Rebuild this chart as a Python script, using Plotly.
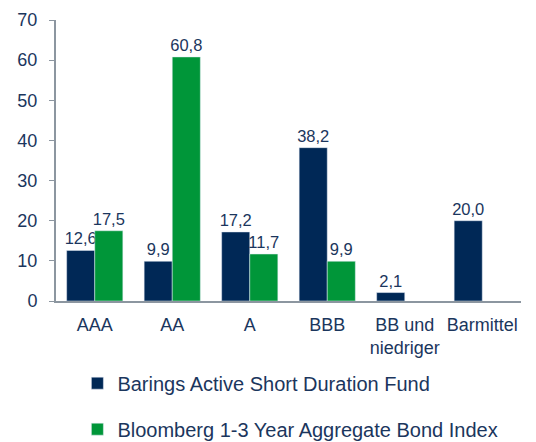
import plotly.graph_objects as go

categories = ["AAA", "AA", "A", "BBB", "BB und<br>niedriger", "Barmittel"]
fund_name = "Barings Active Short Duration Fund"
index_name = "Bloomberg 1-3 Year Aggregate Bond Index"
fund_values = [12.6, 9.9, 17.2, 38.2, 2.1, 20.0]
index_values = [17.5, 60.8, 11.7, 9.9, None, None]
y_ticks = [0, 10, 20, 30, 40, 50, 60, 70]

NAVY = "#002856"
GREEN = "#009639"
TEXT = "#1b365d"
AXIS = "#8c96a0"


def fmt(v):
    return "" if v is None else f"{v:.1f}".replace(".", ",")


fig = go.Figure()
fig.add_trace(go.Bar(
    x=categories, y=fund_values, name=fund_name, marker_color=NAVY,
    text=[fmt(v) for v in fund_values], textposition="outside",
    textfont=dict(size=16.5, color=TEXT), cliponaxis=False, constraintext="none",
    legendgroup="a",
))
fig.add_trace(go.Bar(
    x=categories, y=index_values, name=index_name, marker_color=GREEN,
    text=[fmt(v) for v in index_values], textposition="outside",
    textfont=dict(size=16.5, color=TEXT), cliponaxis=False, constraintext="none",
    legendgroup="b",
))

# page body has an 8px margin, so the figure is sized to fit the 536x442 window
fig.update_layout(
    width=528, height=434,
    margin=dict(l=48, r=15, t=12, b=141, autoexpand=False),
    plot_bgcolor="white", paper_bgcolor="white",
    font=dict(family="Liberation Sans, Arial, sans-serif", size=18, color=TEXT),
    barmode="group", bargap=0.275, bargroupgap=0,
    showlegend=True,
    legend=dict(
        orientation="v", x=0.046, xanchor="left", y=-0.223, yanchor="top",
        font=dict(size=20, color=TEXT), tracegroupgap=17,
        traceorder="grouped", itemwidth=30,
    ),
    xaxis=dict(
        showline=True, linecolor=AXIS, linewidth=2, ticks="outside",
        ticklen=6, tickcolor="rgba(0,0,0,0)",
        showgrid=False, tickfont=dict(size=18, color=TEXT),
    ),
    yaxis=dict(
        range=[0, 70], tickvals=y_ticks, showline=True, linecolor=AXIS,
        linewidth=2, ticks="outside", tickcolor=AXIS, ticklen=5,
        ticklabelstandoff=8,
        showgrid=False, zeroline=False, tickfont=dict(size=18, color=TEXT),
    ),
)

fig.write_html("out.html")
